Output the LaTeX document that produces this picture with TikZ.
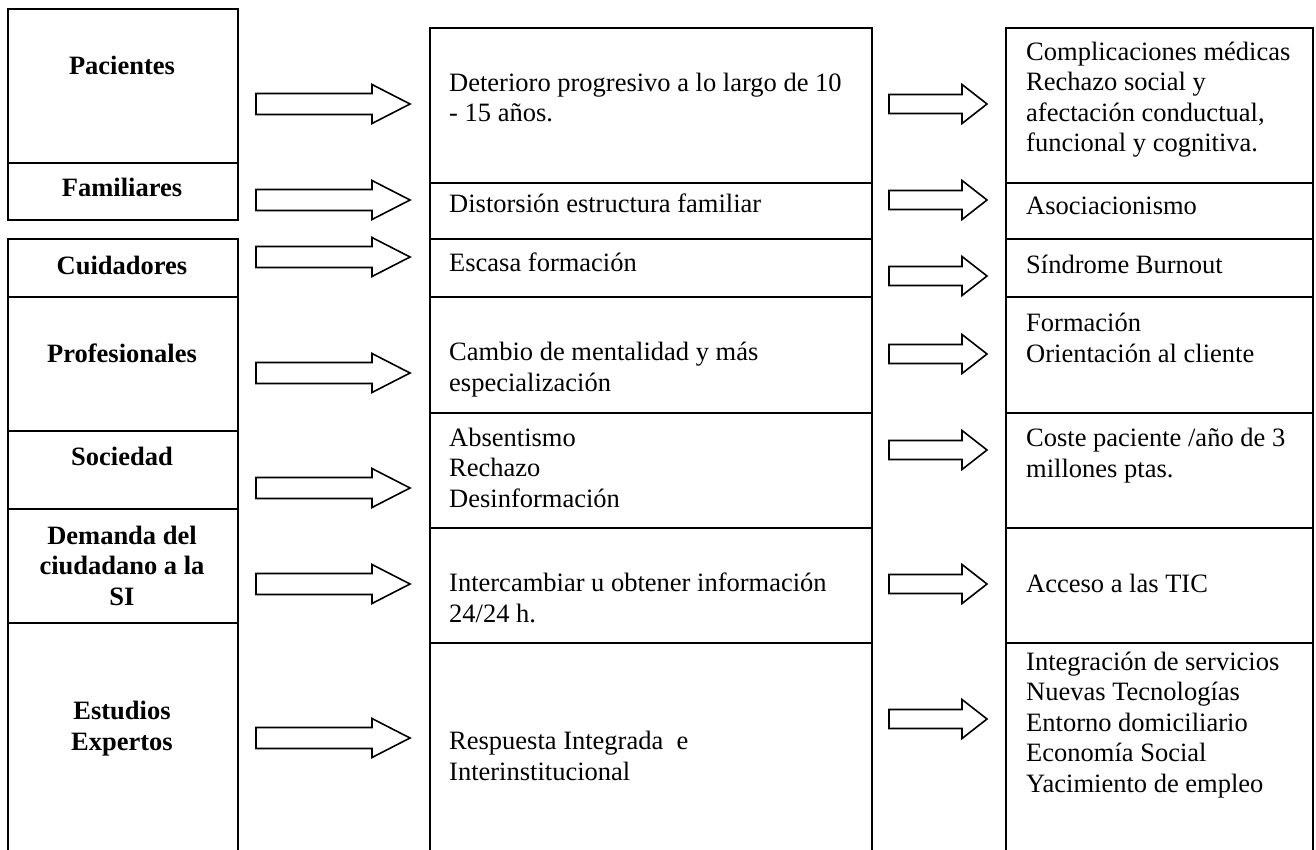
\documentclass[tikz,border=0pt]{standalone}
\usepackage{fontspec}
\setmainfont{Liberation Serif}
\begin{document}
\begin{tikzpicture}[x=1pt,y=-1pt,
  cell/.style={draw, line width=1.8pt, inner sep=0pt, anchor=north west},
  lab/.style={font=\fontsize{26.5}{30.5}\selectfont\bfseries, align=center, anchor=base, inner sep=0pt},
  txt/.style={font=\fontsize{26.5}{30.5}\selectfont, align=left, anchor=base west, inner sep=0pt},
  arrline/.style={draw, line width=1.6pt, line join=miter, fill=white},
  bigarr/.pic={\path[arrline] (0,-10.5) -- (116,-10.5) -- (116,-19.5) -- (154,0) -- (116,19.5) -- (116,10.5) -- (0,10.5) -- cycle;},
  smallarr/.pic={\path[arrline] (0,-9.5) -- (73,-9.5) -- (73,-19.5) -- (98,0) -- (73,19.5) -- (73,9.5) -- (0,9.5) -- cycle;}
]
\clip (0,0) rectangle (1316,850);
\fill[white] (0,0) rectangle (1316,850);

% ---- left column
\node[cell, minimum width=230pt, minimum height=154pt] (L1) at (7,8) {};
\node[cell, minimum width=230pt, minimum height=57pt] (L2) at (7,162) {};
\node[cell, minimum width=230pt, minimum height=58pt] (L3) at (7,238) {};
\node[cell, minimum width=230pt, minimum height=134pt] (L4) at (7,296) {};
\node[cell, minimum width=230pt, minimum height=78pt] (L5) at (7,430) {};
\node[cell, minimum width=230pt, minimum height=114pt] (L6) at (7,508) {};
\node[cell, minimum width=230pt, minimum height=250pt] (L7) at (7,622) {};

% (multi-line nodes are placed at the baseline of their last line)
\node[lab] (tL1) at (122,75) {Pacientes};
\node[lab] (tL2) at (122,197) {Familiares};
\node[lab] (tL3) at (122,274) {Cuidadores};
\node[lab] (tL4) at (122,362) {Profesionales};
\node[lab] (tL5) at (122,465) {Sociedad};
\node[lab] (tL6) at (122,605) {Demanda del\\ciudadano a la\\SI};
\node[lab] (tL7) at (122,750) {Estudios\\Expertos};

% ---- middle column
\node[cell, minimum width=442pt, minimum height=155pt] (M1) at (429,27) {};
\node[cell, minimum width=442pt, minimum height=56pt] (M2) at (429,182) {};
\node[cell, minimum width=442pt, minimum height=58pt] (M3) at (429,238) {};
\node[cell, minimum width=442pt, minimum height=116pt] (M4) at (429,296) {};
\node[cell, minimum width=442pt, minimum height=115pt] (M5) at (429,412) {};
\node[cell, minimum width=442pt, minimum height=115pt] (M6) at (429,527) {};
\node[cell, minimum width=442pt, minimum height=230pt] (M7) at (429,642) {};

\node[txt] (tM1) at (449,122) {Deterioro progresivo a lo largo de 10\\- 15 años.};
\node[txt] (tM2) at (449,213) {Distorsión estructura familiar};
\node[txt] (tM3) at (449,272) {Escasa formación};
\node[txt] (tM4) at (449,391) {Cambio de mentalidad y más\\especialización};
\node[txt] (tM5) at (449,507) {Absentismo\\Rechazo\\Desinformación};
\node[txt] (tM6) at (449,622) {Intercambiar u obtener información\\24/24 h.};
\node[txt] (tM7) at (449,780) {Respuesta Integrada~ e\\Interinstitucional};

% ---- right column
\node[cell, minimum width=307pt, minimum height=155pt] (R1) at (1005,27) {};
\node[cell, minimum width=307pt, minimum height=56pt] (R2) at (1005,182) {};
\node[cell, minimum width=307pt, minimum height=58pt] (R3) at (1005,238) {};
\node[cell, minimum width=307pt, minimum height=116pt] (R4) at (1005,296) {};
\node[cell, minimum width=307pt, minimum height=115pt] (R5) at (1005,412) {};
\node[cell, minimum width=307pt, minimum height=115pt] (R6) at (1005,527) {};
\node[cell, minimum width=307pt, minimum height=230pt] (R7) at (1005,642) {};

\node[txt] (tR1) at (1026,152) {Complicaciones médicas\\Rechazo social y\\afectación conductual,\\funcional y cognitiva.};
\node[txt] (tR2) at (1026,215) {Asociacionismo};
\node[txt] (tR3) at (1026,273) {Síndrome Burnout};
\node[txt] (tR4) at (1026,362) {Formación\\Orientación al cliente};
\node[txt] (tR5) at (1026,477) {Coste paciente /año de 3\\millones ptas.};
\node[txt] (tR6) at (1026,592) {Acceso a las TIC};
\node[txt] (tR7) at (1026,792) {Integración de servicios\\Nuevas Tecnologías\\Entorno domiciliario\\Economía Social\\Yacimiento de empleo};

% ---- arrows left -> middle
\pic (a1) at (256,104) {bigarr};
\pic (a2) at (256,200) {bigarr};
\pic (a3) at (256,257) {bigarr};
\pic (a4) at (256,373) {bigarr};
\pic (a5) at (256,488) {bigarr};
\pic (a6) at (256,584) {bigarr};
\pic (a7) at (256,738) {bigarr};

% ---- arrows middle -> right
\pic (b1) at (889,104) {smallarr};
\pic (b2) at (889,200) {smallarr};
\pic (b3) at (889,276) {smallarr};
\pic (b4) at (889,354) {smallarr};
\pic (b5) at (889,450) {smallarr};
\pic (b6) at (889,584) {smallarr};
\pic (b7) at (889,719) {smallarr};
\end{tikzpicture}
\end{document}
